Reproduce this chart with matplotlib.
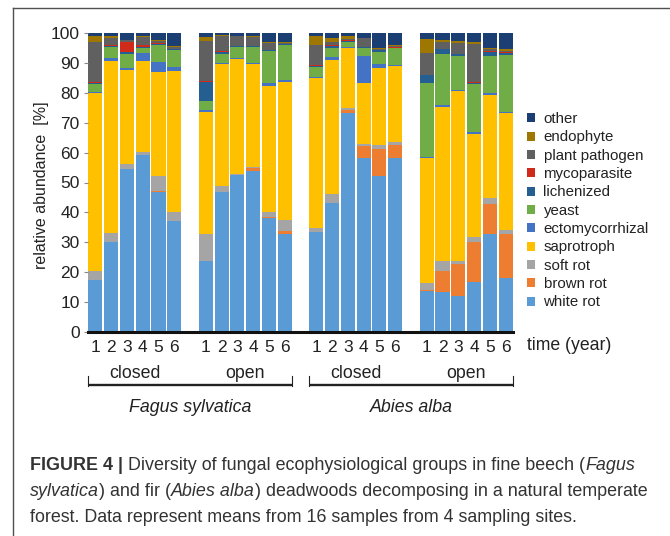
import matplotlib
matplotlib.use("Agg")
import matplotlib.pyplot as plt
from matplotlib.patches import Patch
from matplotlib.lines import Line2D
import numpy as np

plt.rcParams['font.family'] = ['Liberation Sans', 'DejaVu Sans']

# ---- data ----
years = ['1', '2', '3', '4', '5', '6']
subgroups = ['closed', 'open', 'closed', 'open']
species = ['Fagus sylvatica', 'Abies alba']
categories = ['white rot', 'brown rot', 'soft rot', 'saprotroph', 'ectomycorrhizal',
              'yeast', 'lichenized', 'mycoparasite', 'plant pathogen', 'endophyte', 'other']
colors = ['#5B9BD5', '#ED7D31', '#A5A5A5', '#FFC000', '#4472C4',
          '#70AD47', '#255E91', '#D02A1B', '#606060', '#9E7700', '#1B3F72']

white_rot = [17.5, 30, 54.5, 59.2, 46.7, 37.2, 23.7, 46.9, 52.5, 53.8, 38, 32.8,
             33.5, 43, 73.3, 58.1, 52.2, 58.1, 13.8, 13.5, 12.2, 16.6, 32.7, 18]
brown_rot = [0, 0, 0, 0, 0.5, 0, 0, 0, 0, 0.9, 0.6, 1.0,
             0, 0, 0.9, 4.1, 9, 4.4, 0.4, 7, 10.4, 13.6, 10.1, 14.8]
soft_rot = [3, 3, 1.7, 1.1, 5.1, 3, 9.1, 2, 0.5, 0.6, 1.6, 3.7,
            1.2, 3, 0.6, 0.7, 1.3, 0.9, 2.3, 3.3, 1.1, 1.7, 2.1, 1.3]
saprotroph = [59.5, 57.7, 31.5, 30.4, 34.5, 47.2, 40.7, 40.6, 38.2, 34.3, 42.1, 46.2,
              50.1, 45, 20.1, 20.3, 25.9, 25.7, 41.8, 51.6, 57, 34.2, 34.4, 39.2]
ectomycorrhizal = [0.3, 0.8, 0.6, 2.5, 3.4, 1.1, 0.8, 0.3, 0.3, 0.5, 0.9, 0.6,
                   0.6, 0.9, 0.4, 9.1, 1.2, 0.3, 0.3, 0.4, 0.4, 0.7, 0.5, 0.2]
yeast = [2.7, 3.9, 4.8, 1.9, 5.8, 5.8, 3.0, 3.2, 3.9, 5.3, 10.9, 11.7,
         3.3, 3.2, 1.8, 2.8, 4.1, 5.5, 24.8, 17.2, 11.2, 16.1, 12.5, 19.1]
lichenized = [0.2, 0.3, 0.4, 0.3, 0.3, 0.3, 6.2, 0.5, 0.2, 0.2, 0.2, 0.3,
              0.4, 0.7, 0.3, 0.2, 0.5, 0.2, 2.6, 1.5, 0.6, 0.5, 1.4, 0.8]
mycoparasite = [0.3, 0.4, 3.5, 0.5, 0.3, 0.2, 0.3, 0.5, 0.1, 0.1, 0.1, 0.1,
                0.1, 0.1, 0.1, 0.1, 0.2, 0.1, 0.1, 0.1, 0.1, 0.1, 0.3, 0.1]
plant_pathogen = [13.5, 2.2, 0.5, 2.8, 0.8, 0.5, 13.6, 5, 3.2, 3.0, 2.2, 0.4,
                  6.8, 1.2, 0.6, 2.8, 0.4, 0.4, 7.1, 2.3, 3.8, 12.9, 0.5, 0.5]
endophyte = [2, 0.6, 0.3, 0.3, 0.3, 0.3, 1.4, 0.2, 0.2, 0.2, 0.5, 0.3,
             3.1, 1.3, 0.8, 0.2, 0.3, 0.4, 4.7, 0.8, 0.5, 0.6, 0.5, 0.6]
other = [1, 1.1, 2.2, 1.0, 2.3, 4.4, 1.2, 0.8, 0.8, 1.1, 2.9, 2.9,
         0.9, 1.6, 1.1, 1.6, 4.9, 4.0, 2.1, 2.3, 2.7, 3.0, 5.0, 5.4]

series = [white_rot, brown_rot, soft_rot, saprotroph, ectomycorrhizal, yeast,
          lichenized, mycoparasite, plant_pathogen, endophyte, other]

# ---- figure ----
W, H = 670, 536
fig = plt.figure(figsize=(W / 100, H / 100), dpi=100)

def fx(px):
    return px / W

def fy(py):
    return 1 - py / H

ax_l, ax_r, ax_t, ax_b = 88, 513, 33, 332
ax = fig.add_axes([fx(ax_l), fy(ax_b), fx(ax_r - ax_l), (ax_b - ax_t) / H])

# positions: 4 groups of 6 with one empty slot between groups
pos = []
for g in range(4):
    for k in range(6):
        pos.append(g * 7 + k)
pos = np.array(pos, dtype=float)
bw = 0.89

bottom = np.zeros(len(pos))
for vals, col, name in zip(series, colors, categories):
    v = np.array(vals, dtype=float)
    ax.bar(pos, v, bw, bottom=bottom, color=col, edgecolor='none', label=name)
    bottom += v

ax.set_xlim(-0.47, 26.47)
ax.set_ylim(0, 100)
for s in ['top', 'right', 'left']:
    ax.spines[s].set_visible(False)
ax.spines['bottom'].set_linewidth(2.2)
ax.spines['bottom'].set_color('#111111')
ax.set_yticks(np.arange(0, 101, 10))
ax.tick_params(axis='y', direction='out', length=3, width=0.8, color='#8a8a8a',
               labelsize=12.5, pad=3, labelcolor='#222222')
ax.set_xticks(pos)
ax.set_xticklabels(years * 4)
ax.tick_params(axis='x', length=0, labelsize=12.5, pad=5.5, labelcolor='#222222')

fig.text(fx(42), fy(185), 'relative abundance  [%]', rotation=90, ha='center', va='center',
         fontsize=11.5, color='#222222')
fig.text(fx(527), fy(346), 'time (year)', ha='left', va='center', fontsize=12.7, color='#222222')

# brackets and group labels
tr = ax.get_xaxis_transform()

def ay(py):
    return (ax_b - py) / (ax_b - ax_t)

for gi, (x0, x1) in enumerate([(0 - bw / 2, 12 + bw / 2), (14 - bw / 2, 26 + bw / 2)]):
    ax.add_line(Line2D([x0, x1], [ay(385), ay(385)], transform=tr, color='#222222',
                       lw=1.7, clip_on=False, solid_capstyle='butt'))
    for xx in (x0, x1):
        ax.add_line(Line2D([xx, xx], [ay(386), ay(376)], transform=tr, color='#222222',
                           lw=0.8, clip_on=False))
    ax.text((x0 + x1) / 2, ay(407), species[gi], transform=tr, ha='center', va='center',
            fontsize=12.8, style='italic', color='#222222')

for si, name in enumerate(subgroups):
    cx = si * 7 + 2.5
    ax.text(cx, ay(373), name, transform=tr, ha='center', va='center', fontsize=12.8,
            color='#222222')

# legend
handles = [Patch(facecolor=c, edgecolor='none') for c in colors][::-1]
labels = categories[::-1]
leg = fig.legend(handles, labels, loc='upper left', bbox_to_anchor=(fx(527), fy(112)),
                 frameon=False, fontsize=10.8, handlelength=0.55, handleheight=0.55,
                 handletextpad=0.55, labelspacing=0.29, borderpad=0, borderaxespad=0)
for t in leg.get_texts():
    t.set_color('#222222')

# frame lines
fig.add_artist(Line2D([fx(13), 1], [fy(8), fy(8)], color='#505050', lw=1.0))
fig.add_artist(Line2D([fx(13), fx(13)], [fy(8), 0], color='#505050', lw=1.0))

# caption
cap_fs = 12.9
cap_lines = [
    [('FIGURE 4 |', 'bold', 'normal'), (' Diversity of fungal ecophysiological groups in fine beech (', 'normal', 'normal'), ('Fagus', 'normal', 'italic')],
    [('sylvatica', 'normal', 'italic'), (') and fir (', 'normal', 'normal'), ('Abies alba', 'normal', 'italic'), (') deadwoods decomposing in a natural temperate', 'normal', 'normal')],
    [('forest. Data represent means from 16 samples from 4 sampling sites.', 'normal', 'normal')],
]
cap_y = [466, 492, 518]
for line, yy in zip(cap_lines, cap_y):
    prev = None
    for txt, wt, st in line:
        if prev is None:
            prev = fig.text(fx(30), fy(yy), txt, ha='left', va='center', fontsize=cap_fs,
                            weight=wt, style=st, color='#333333')
        else:
            prev = ax.annotate(txt, xy=(1, fy(yy)), xycoords=(prev, 'figure fraction'),
                               ha='left', va='center', fontsize=cap_fs, weight=wt, style=st,
                               color='#333333', annotation_clip=False)

fig.savefig('out.png', dpi=100)
